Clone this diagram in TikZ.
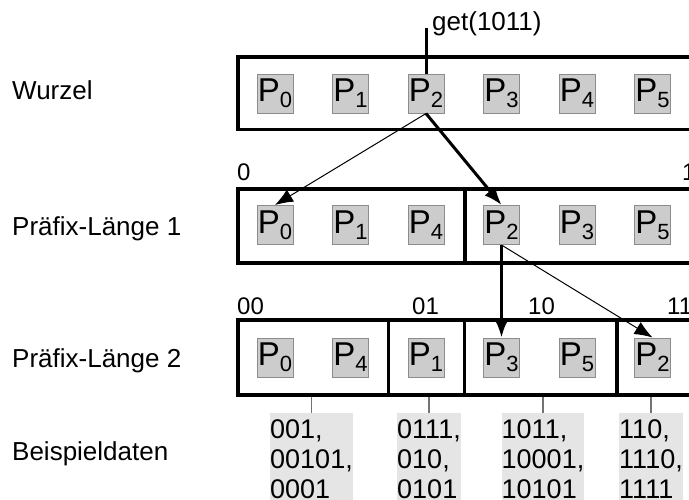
\documentclass[tikz,border=0pt]{standalone}
\usepackage{fontspec}
\setmainfont{Liberation Sans}
\usetikzlibrary{arrows.meta}
% P with a lowered index, as in the trie nodes
\newcommand{\Pn}[1]{P\raisebox{-6pt}{\fontsize{22}{22}\selectfont #1}}

\begin{document}
\begin{tikzpicture}[x=1pt,y=-1pt,
		pbox/.style={draw=black!45,fill=black!20,line width=1pt,minimum width=36pt,minimum height=39pt,inner sep=0pt,font=\fontsize{33}{33}\selectfont},
		row/.style={line width=3.5pt},
		data/.style={fill=black!10,inner xsep=0pt,inner ysep=6.5pt,align=left,anchor=north,font=\fontsize{27}{30}\selectfont},
		lbl/.style={anchor=base west,inner sep=0pt,font=\fontsize{26}{30}\selectfont},
		bits/.style={anchor=base west,inner sep=0pt,font=\fontsize{24}{24}\selectfont},
		miss/.style={->,line width=1pt},
		hit/.style={->,line width=3pt},
		>={Latex[length=18pt,width=14pt]}]
	\useasboundingbox (0,0) rectangle (689,499);
	\clip (0,0) rectangle (689,499);
	%% row labels
	\node[lbl] (lw) at (12,99) {Wurzel};
	\node[lbl] (l1) at (12,235) {Präfix-Länge 1};
	\node[lbl] (l2) at (12,367) {Präfix-Länge 2};
	\node[lbl] (ld) at (12,460) {Beispieldaten};
	%% rows
	\draw[row] (238,57) rectangle (720,129.5);
	\draw[row] (238,189) rectangle (720,263);
	\draw[row] (465,189) -- (465,263);
	\draw[row] (238,320) rectangle (720,395);
	\foreach \x in {388.5,464.5,617} \draw[row] (\x,320) -- (\x,395);
	%% prefixes
	\node[bits] (k0) at (237,180) {0};
	\node[bits] (k1) at (682,180) {1};
	\node[bits] (k00) at (237,314) {00};
	\node[bits] (k01) at (412,314) {01};
	\node[bits] (k10) at (528,314) {10};
	\node[bits] (k11) at (667,314) {11};
	%% partitions
	\foreach \i/\p in {0/0,1/1,2/2,3/3,4/4,5/5}
		\node[pbox] (w\p) at (275+75.5*\i,93.5) {\Pn{\p}};
	\foreach \i/\p in {0/0,1/1,2/4,3/2,4/3,5/5}
		\node[pbox] (a\p) at (275+75.5*\i,225) {\Pn{\p}};
	\foreach \i/\p in {0/0,1/4,2/1,3/3,4/5,5/2}
		\node[pbox] (b\p) at (275+75.5*\i,357.5) {\Pn{\p}};
	%% lookup
	\coordinate (get) at (w2.north |- 0,28);
	\node[anchor=base west,inner sep=0pt,font=\fontsize{26}{26}\selectfont] (q) at (432,30) {get(1011)};
	\draw[line width=3pt] (get) -- (w2.north);
	\draw[miss] (w2.south) -- (a0.north);
	\draw[hit] (w2.south) -- (a2.north);
	\draw[hit] (a2.south) -- (b3.north);
	\draw[miss] (a2.south) -- (b2.north);
	%% sample data
	\node[data] (d00) at (311.5,413) {001,\\00101,\\0001};
	\node[data] (d01) at (429,413) {0111,\\010,\\0101};
	\node[data] (d10) at (543,413) {1011,\\10001,\\10101};
	\node[data] (d11) at (651,413) {110,\\1110,\\1111};
	\foreach \d in {d00,d01,d10,d11}
		\draw[black!55,line width=1.3pt] (\d.north |- 0,396.5) -- (\d.north);
\end{tikzpicture}
\end{document}
